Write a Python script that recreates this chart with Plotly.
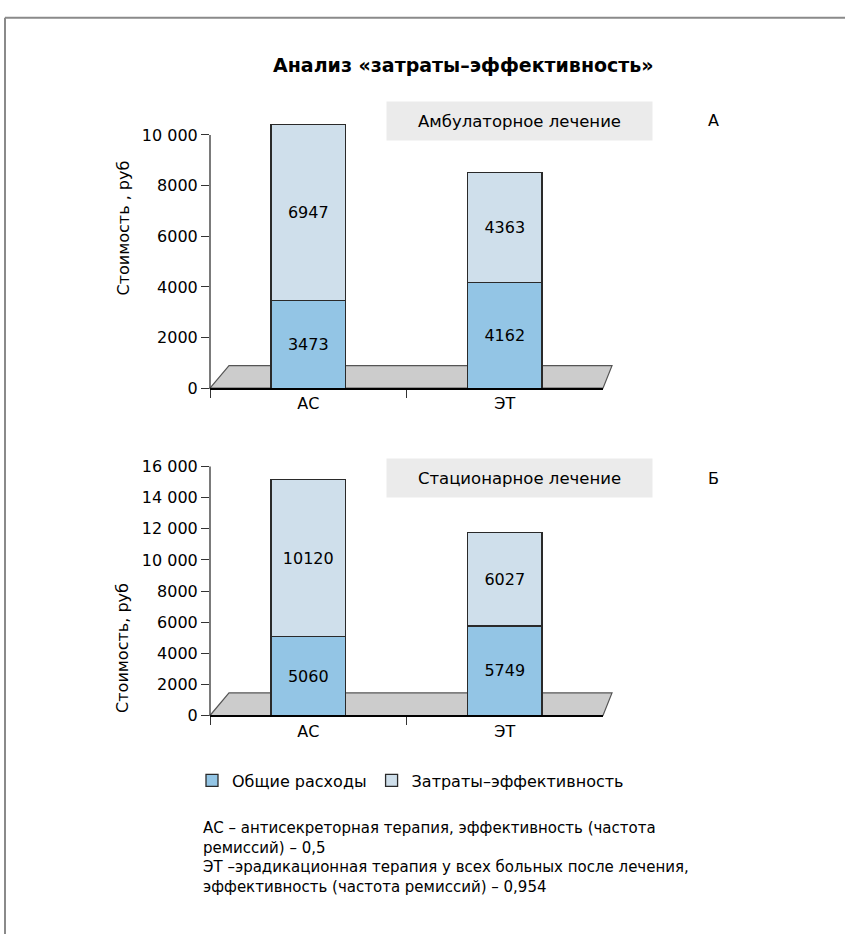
import plotly.graph_objects as go

# ---------------- data ----------------
categories = ["АС", "ЭТ"]
series_names = ["Общие расходы", "Затраты–эффективность"]

amb_total = [3473, 4162]          # Общие расходы, амбулаторное
amb_ce = [6947, 4363]             # Затраты–эффективность, амбулаторное
stat_total = [5060, 5749]         # Общие расходы, стационарное
stat_ce = [10120, 6027]           # Затраты–эффективность, стационарное

amb_ticks = [0, 2000, 4000, 6000, 8000, 10000]
amb_ticktext = ["0", "2000", "4000", "6000", "8000", "10 000"]
stat_ticks = [0, 2000, 4000, 6000, 8000, 10000, 12000, 14000, 16000]
stat_ticktext = ["0", "2000", "4000", "6000", "8000", "10 000", "12 000", "14 000", "16 000"]

title_text = "Анализ «затраты–эффективность»"
panel_a_label = "Амбулаторное лечение"
panel_b_label = "Стационарное лечение"
ytitle_a = "Стоимость , руб"
ytitle_b = "Стоимость, руб"
notes = ("АС – антисекреторная терапия, эффективность (частота<br>"
         "ремиссий) – 0,5<br>"
         "ЭТ –эрадикационная терапия у всех больных после лечения,<br>"
         "эффективность (частота ремиссий) – 0,954")

# ---------------- layout helpers ----------------
W, H = 845, 944
FONT = "DejaVu Sans, Liberation Sans, Arial, sans-serif"
C_LOW = "#93c5e5"
C_HIGH = "#cfdfeb"
EDGE = "#2a2a2a"


def px(x):
    return x / W


def py(y):
    return 1 - y / H


# axis geometry (pixel positions)
X0, X1 = 210, 603
A_BOT, A_TOP, A_RANGE = 387, 113, [0, 10600]
B_BOT, B_TOP, B_RANGE = 721, 467, [0, 16000]


def yval_to_paper(v, bot, top, rng):
    return py(bot) + (v - rng[0]) / (rng[1] - rng[0]) * (py(top) - py(bot))


fig = go.Figure()

for vals, name, col in [(amb_total, series_names[0], C_LOW),
                        (amb_ce, series_names[1], C_HIGH)]:
    fig.add_trace(go.Bar(
        x=categories, y=vals, name=name, xaxis="x", yaxis="y",
        marker=dict(color=col, line=dict(color=EDGE, width=1.3)),
        width=0.38, text=[str(v) for v in vals], textposition="inside",
        insidetextanchor="middle", textangle=0,
        textfont=dict(size=16, color="black", family=FONT),
        showlegend=True, legendgroup=name,
    ))

for vals, name, col in [(stat_total, series_names[0], C_LOW),
                        (stat_ce, series_names[1], C_HIGH)]:
    fig.add_trace(go.Bar(
        x=categories, y=vals, name=name, xaxis="x2", yaxis="y2",
        marker=dict(color=col, line=dict(color=EDGE, width=1.3)),
        width=0.38, text=[str(v) for v in vals], textposition="inside",
        insidetextanchor="middle", textangle=0,
        textfont=dict(size=16, color="black", family=FONT),
        showlegend=False, legendgroup=name,
    ))

xaxis_common = dict(
    showgrid=False, zeroline=False, showline=True, linecolor="black", linewidth=2,
    ticks="outside", ticklen=8, tickcolor="#333", tickwidth=1, tickson="boundaries",
    tickfont=dict(size=16, color="black", family=FONT), range=[-0.5, 1.5],
    fixedrange=True,
)
yaxis_common = dict(
    showgrid=False, zeroline=False, showline=False,
    ticks="outside", ticklen=8, tickcolor="#333", tickwidth=1,
    tickfont=dict(size=16, color="black", family=FONT), fixedrange=True,
)

shapes = []
for bot, top, rng, tv in [(A_BOT, A_TOP, A_RANGE, amb_ticks), (B_BOT, B_TOP, B_RANGE, stat_ticks)]:
    # y-axis line from 0 up to the top tick
    shapes.append(dict(type="line", xref="paper", yref="paper",
                       x0=px(X0), x1=px(X0),
                       y0=yval_to_paper(tv[0], bot, top, rng),
                       y1=yval_to_paper(tv[-1], bot, top, rng),
                       line=dict(color="#333", width=1.3), layer="above"))
    # pseudo-3D floor
    depth = 23
    path = (f"M{px(X0)},{py(bot)} L{px(X0 + 19)},{py(bot - depth)} "
            f"L{px(X1 + 9)},{py(bot - depth)} L{px(X1)},{py(bot)} Z")
    shapes.append(dict(type="path", xref="paper", yref="paper", path=path,
                       fillcolor="#cccccc", line=dict(color="#555555", width=1.2),
                       layer="below"))

# page frame (left and top)
shapes.append(dict(type="line", xref="paper", yref="paper", x0=px(5), x1=1.0,
                   y0=py(9), y1=py(9), line=dict(color="#8a8a8a", width=2)))
shapes.append(dict(type="line", xref="paper", yref="paper", x0=px(5), x1=px(5),
                   y0=py(9), y1=0, line=dict(color="#8a8a8a", width=2)))


def ann(text, x, y, size=16, **kw):
    d = dict(text=text, x=px(x), y=py(y), xref="paper", yref="paper",
             xanchor="center", yanchor="middle", showarrow=False,
             font=dict(size=size, color="black", family=FONT))
    d.update(kw)
    return d


annotations = [
    ann(f"<b>{title_text}</b>", 463, 57, size=19),
    ann(panel_a_label, 519.5, 114, size=16.5, bgcolor="#ebebeb", width=257, height=30, borderpad=4),
    ann("А", 713, 114),
    ann(panel_b_label, 519.5, 479, size=16.5, bgcolor="#ebebeb", width=257, height=30, borderpad=4),
    ann("Б", 713, 479),
    ann(ytitle_a, 123, 224, textangle=-90),
    ann(ytitle_b, 123, 652, textangle=-90),
    ann(notes, 201, 825, size=15, xanchor="left", yanchor="top", align="left"),
]

fig.update_layout(
    width=W, height=H, autosize=False,
    margin=dict(l=0, r=0, t=0, b=0),
    paper_bgcolor="white", plot_bgcolor="rgba(0,0,0,0)",
    barmode="stack",
    font=dict(family=FONT, color="black"),
    xaxis=dict(domain=[px(X0), px(X1)], anchor="y", **xaxis_common),
    yaxis=dict(domain=[py(A_BOT), py(A_TOP)], anchor="x", range=A_RANGE,
               tickvals=amb_ticks, ticktext=amb_ticktext, **yaxis_common),
    xaxis2=dict(domain=[px(X0), px(X1)], anchor="y2", **xaxis_common),
    yaxis2=dict(domain=[py(B_BOT), py(B_TOP)], anchor="x2", range=B_RANGE,
                tickvals=stat_ticks, ticktext=stat_ticktext, **yaxis_common),
    legend=dict(orientation="h", x=px(192), y=py(770), xanchor="left", yanchor="top",
                traceorder="normal", font=dict(size=16, color="black", family=FONT),
                itemwidth=30, bgcolor="rgba(0,0,0,0)"),
    shapes=shapes,
    annotations=annotations,
    uniformtext=dict(mode="show", minsize=16),
)

fig.write_html("out.html", config={"displayModeBar": False},
               post_script="document.body.style.margin='0';document.body.style.overflow='hidden';")
